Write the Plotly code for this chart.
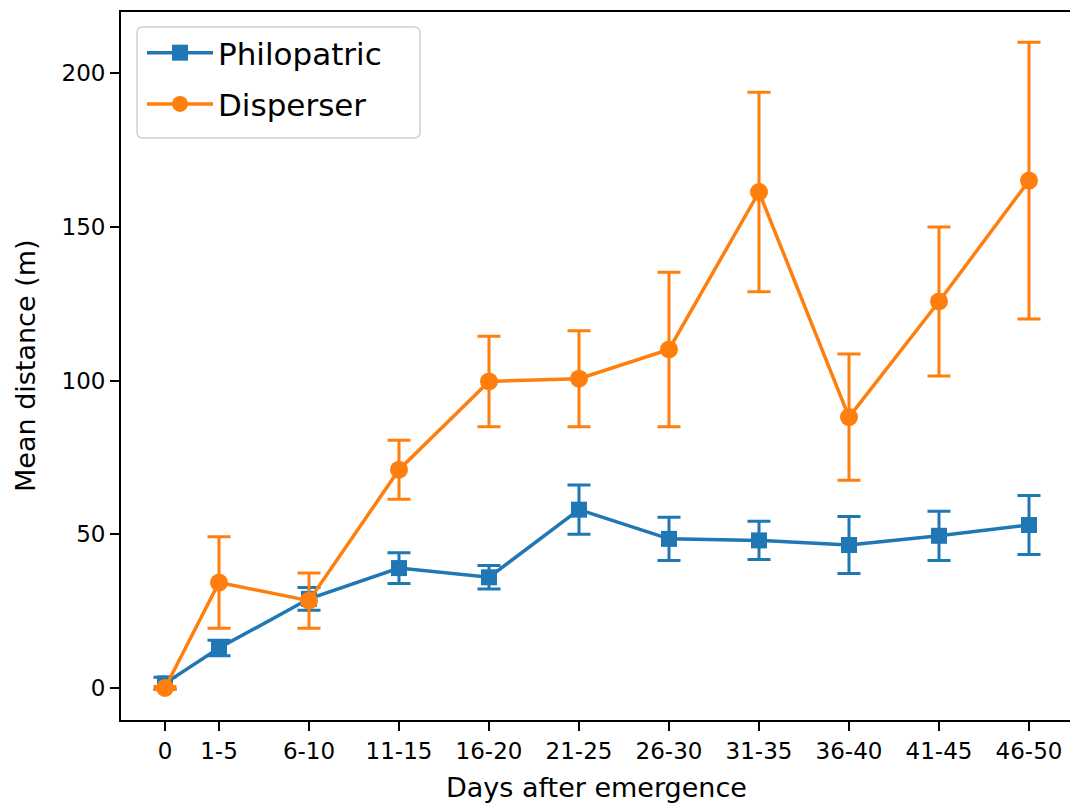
import plotly.graph_objects as go

# ---- data ----
categories = ["0", "1-5", "6-10", "11-15", "16-20", "21-25", "26-30", "31-35", "36-40", "41-45", "46-50"]
x_positions = [0, 3, 8, 13, 18, 23, 28, 33, 38, 43, 48]

philopatric_mean = [1.5, 13, 29, 39, 36, 58, 48.5, 48, 46.5, 49.5, 53]
philopatric_err = [2, 2.5, 3.7, 5, 3.8, 8, 7, 6.2, 9.3, 8, 9.6]

disperser_mean = [0, 34.3, 28.4, 71, 99.7, 100.6, 110.1, 161.3, 88.1, 125.7, 165]
disperser_err = [0.5, 14.9, 9, 9.6, 14.7, 15.6, 25.1, 32.4, 20.5, 24.2, 45]

BLUE = "#1f77b4"
ORANGE = "#ff7f0e"
FONT = "DejaVu Sans"

W, H = 1070, 804
L, R, T, B = 121, 0, 12, 84

fig = go.Figure()
fig.add_trace(go.Scatter(
    x=x_positions, y=philopatric_mean, name="Philopatric",
    mode="lines+markers", legendgroup="a",
    line=dict(color=BLUE, width=3.5),
    marker=dict(symbol="square", size=16, color=BLUE),
    error_y=dict(type="data", array=philopatric_err, visible=True,
                 color=BLUE, thickness=3, width=11.5),
))
fig.add_trace(go.Scatter(
    x=x_positions, y=disperser_mean, name="Disperser",
    mode="lines+markers", legendgroup="b",
    line=dict(color=ORANGE, width=3.5),
    marker=dict(symbol="circle", size=18, color=ORANGE),
    error_y=dict(type="data", array=disperser_err, visible=True,
                 color=ORANGE, thickness=3, width=11.5),
))

pw = W - L - R
ph = H - T - B

def px2x(px):
    return (px - L) / pw

def py2y(py):
    return (H - B - py) / ph

# legend frame (rounded)
x0, x1 = px2x(137), px2x(420)
y0, y1 = py2y(138), py2y(27)
rx = 6 / pw
ry = 6 / ph
path = (f"M {x0+rx},{y1} L {x1-rx},{y1} Q {x1},{y1} {x1},{y1-ry} "
        f"L {x1},{y0+ry} Q {x1},{y0} {x1-rx},{y0} L {x0+rx},{y0} "
        f"Q {x0},{y0} {x0},{y0+ry} L {x0},{y1-ry} Q {x0},{y1} {x0+rx},{y1} Z")
fig.add_shape(type="path", path=path, xref="paper", yref="paper",
              fillcolor="rgba(255,255,255,0.8)", line=dict(color="#d0d0d0", width=1.5),
              layer="above")

fig.update_layout(
    width=W, height=H,
    margin=dict(l=L, r=R, t=T, b=B),
    paper_bgcolor="white", plot_bgcolor="white",
    font=dict(family=FONT, size=23, color="black"),
    showlegend=True,
    legend=dict(x=px2x(142), y=py2y(26), xanchor="left", yanchor="top",
                bgcolor="rgba(0,0,0,0)", borderwidth=0,
                font=dict(family=FONT, size=31, color="black"),
                tracegroupgap=8, traceorder="grouped", itemwidth=66),
    xaxis=dict(
        range=[-44 / 18, (W - R - 165) / 18],
        tickmode="array", tickvals=x_positions, ticktext=categories,
        ticks="outside", ticklen=9, tickwidth=1.8, tickcolor="black",
        showline=True, linecolor="black", linewidth=1.8, mirror=True,
        showgrid=False, zeroline=False,
        tickfont=dict(family=FONT, size=23, color="black"),
    ),
    yaxis=dict(
        range=[(688 - (H - B)) / 3.075, (688 - T) / 3.075],
        tickmode="array", tickvals=[0, 50, 100, 150, 200],
        ticks="outside", ticklen=9, tickwidth=1.8, tickcolor="black",
        showline=True, linecolor="black", linewidth=1.8, mirror=False,
        showgrid=False, zeroline=False,
        tickfont=dict(family=FONT, size=23, color="black"),
        ticklabelstandoff=0,
    ),
    annotations=[
        dict(text="Days after emergence", xref="paper", yref="paper",
             x=px2x(596), y=py2y(788), xanchor="center", yanchor="middle",
             showarrow=False, font=dict(family=FONT, size=27, color="black")),
        dict(text="Mean distance (m)", xref="paper", yref="paper",
             x=px2x(25), y=py2y(366), xanchor="center", yanchor="middle",
             textangle=-90, showarrow=False,
             font=dict(family=FONT, size=27, color="black")),
    ],
)

fig.write_html(
    "out.html",
    config={"displayModeBar": False},
    post_script="document.body.style.margin='0';document.body.style.overflow='hidden';",
)
